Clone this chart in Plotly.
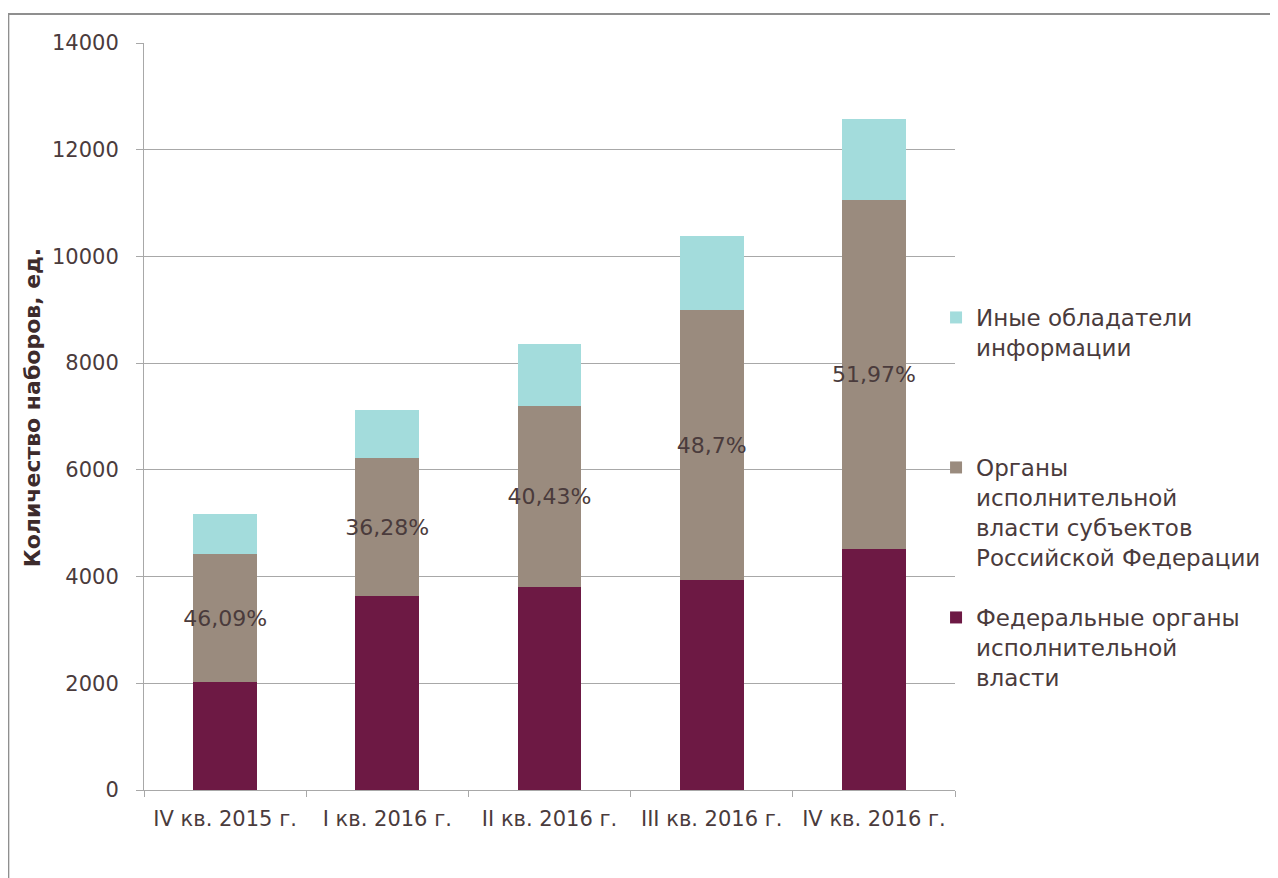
import plotly.graph_objects as go

categories = ["IV кв. 2015 г.", "I кв. 2016 г.", "II кв. 2016 г.", "III кв. 2016 г.", "IV кв. 2016 г."]
federal = [2020, 3630, 3805, 3940, 4520]
regional = [2405, 2592, 3384, 5048, 6543]
other = [740, 892, 1175, 1400, 1512]
regional_pct = ["46,09%", "36,28%", "40,43%", "48,7%", "51,97%"]

name_federal = "Федеральные органы<br>исполнительной<br>власти"
name_regional = "Органы<br>исполнительной<br>власти субъектов<br>Российской Федерации"
name_other = "Иные обладатели<br>информации"

y_ticks = [0, 2000, 4000, 6000, 8000, 10000, 12000, 14000]

FONT = "DejaVu Sans"
TXT = "#4a3b3c"
GRID = "#a8a8a8"

# figure placed in page with 8px body margin
W, H = 1270, 870
ML, MT, PW, PH = 136, 35, 813, 747
MR = W - ML - PW
MB = H - MT - PH


def py(page_y):
    return (MT + PH + 8 - page_y) / PH


def px(page_x):
    return (page_x - 8 - ML) / PW


fig = go.Figure()
fig.add_trace(go.Bar(
    x=categories, y=federal, name=name_federal,
    marker=dict(color="#6d1944", line=dict(width=0)),
    legend="legend3", hoverinfo="skip",
))
fig.add_trace(go.Bar(
    x=categories, y=regional, name=name_regional,
    marker=dict(color="#9a8b7e", line=dict(width=0)),
    text=regional_pct, textposition="inside", insidetextanchor="middle",
    constraintext="none", textangle=0,
    textfont=dict(family=FONT, size=22, color=TXT),
    legend="legend2", hoverinfo="skip",
))
fig.add_trace(go.Bar(
    x=categories, y=other, name=name_other,
    marker=dict(color="#a3dcdc", line=dict(width=0)),
    legend="legend", hoverinfo="skip",
))

leg_common = dict(
    xanchor="left", yanchor="top", x=px(938),
    font=dict(family=FONT, size=23, color=TXT),
    valign="top", bgcolor="rgba(0,0,0,0)", borderwidth=0,
)

fig.update_layout(
    width=W, height=H,
    margin=dict(l=ML, r=MR, t=MT, b=MB),
    paper_bgcolor="white", plot_bgcolor="white",
    barmode="stack", bargap=0.606,
    font=dict(family=FONT, color=TXT),
    showlegend=True,
    legend=dict(**leg_common, y=py(296)),
    legend2=dict(**leg_common, y=py(446)),
    legend3=dict(**leg_common, y=py(596)),
    xaxis=dict(
        type="category", tickson="boundaries", ticks="outside", ticklen=6,
        tickcolor=GRID, showline=True, linecolor=GRID, linewidth=1,
        tickfont=dict(family=FONT, size=21, color=TXT),
        ticklabelstandoff=10,
        showgrid=False,
    ),
    yaxis=dict(
        range=[0, 14000], tickvals=y_ticks, tickformat="d",
        ticks="outside", ticklen=7,
        tickcolor=GRID, showline=True, linecolor=GRID, linewidth=1,
        showgrid=True, gridcolor=GRID, gridwidth=1, zeroline=False,
        tickfont=dict(family=FONT, size=21, color=TXT),
        ticklabelstandoff=13,
    ),
    annotations=[dict(
        text="<b>Количество наборов, ед.</b>", textangle=-90,
        xref="paper", yref="paper", x=px(33), y=py(407),
        xanchor="center", yanchor="middle", showarrow=False,
        font=dict(family=FONT, size=22, color="#3d2b2c"),
    )],
    shapes=[dict(
        type="rect", xref="paper", yref="paper",
        x0=px(8), x1=1.6, y0=-0.4, y1=py(14),
        line=dict(color="#8f8f8f", width=2), fillcolor="rgba(0,0,0,0)",
    )],
)

fig.write_html("out.html")
